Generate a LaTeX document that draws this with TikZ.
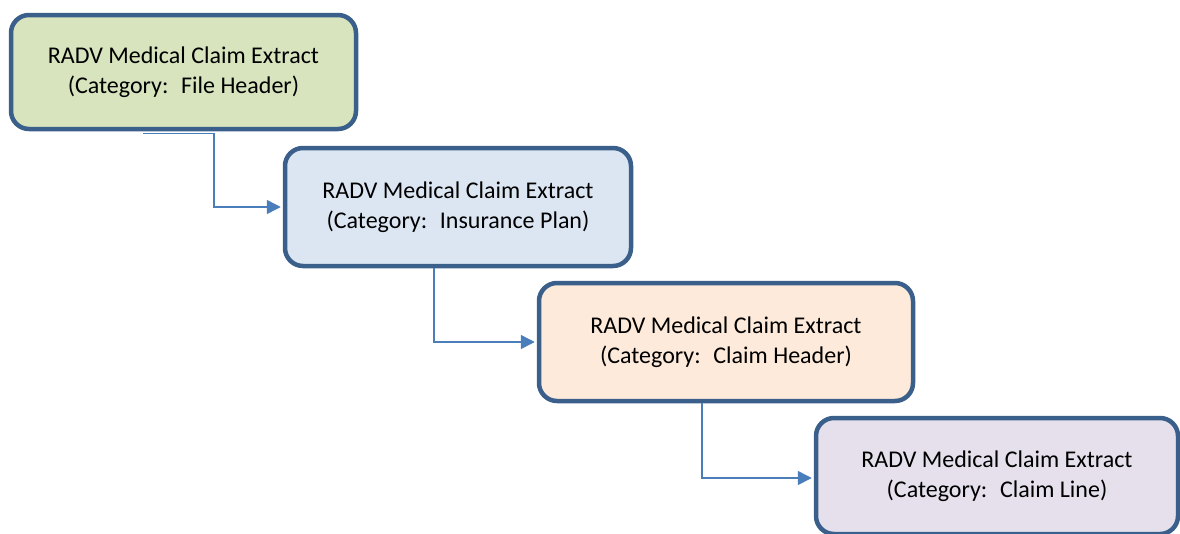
\documentclass[tikz,border=0pt]{standalone}
\usepackage{fontspec}
\setmainfont{Carlito}
\usetikzlibrary{arrows.meta}
\definecolor{cardedge}{HTML}{3A5F8B}
\definecolor{fillA}{HTML}{D7E4BD}
\definecolor{fillB}{HTML}{DCE6F2}
\definecolor{fillC}{HTML}{FDEADA}
\definecolor{fillD}{HTML}{E5E0EC}
\definecolor{linkblue}{HTML}{4A7EBB}
\begin{document}
\begin{tikzpicture}[x=1pt,y=-1pt,
  card/.style={draw=cardedge, line width=4.5pt, rounded corners=18pt,
    align=center, inner sep=0pt, text=black,
    font=\fontsize{24}{30}\selectfont},
  flow/.style={draw=linkblue, line width=1.5pt,
    -{Triangle[length=14pt,width=14pt]}, shorten >=2pt}]
\useasboundingbox (0,0) rectangle (1180,533);

% the four extract categories, stepping down to the right
\node[card, fill=fillA, minimum width=345pt, minimum height=114pt] (b1) at (183.5,72)
  {RADV Medical Claim Extract\\(Category:~ File Header)};
\node[card, fill=fillB, minimum width=346pt, minimum height=118pt] (b2) at (458,207)
  {RADV Medical Claim Extract\\(Category:~ Insurance Plan)};
\node[card, fill=fillC, minimum width=374pt, minimum height=118pt] (b3) at (726,342)
  {RADV Medical Claim Extract\\(Category:~ Claim Header)};
\node[card, fill=fillD, minimum width=362pt, minimum height=116pt] (b4) at (997,476)
  {RADV Medical Claim Extract\\(Category:~ Claim Line)};

% elbow connectors between consecutive categories
\coordinate (s1) at (143,133.5);
\coordinate (k1) at (214,133.5);
\draw[flow] (s1) -- (k1) |- (b2.west);
\coordinate (s2) at (434,268);
\draw[flow] (s2) |- (b3.west);
\coordinate (s3) at (702,403);
\draw[flow] (s3) |- ([yshift=-2pt]b4.west);
\end{tikzpicture}
\end{document}
